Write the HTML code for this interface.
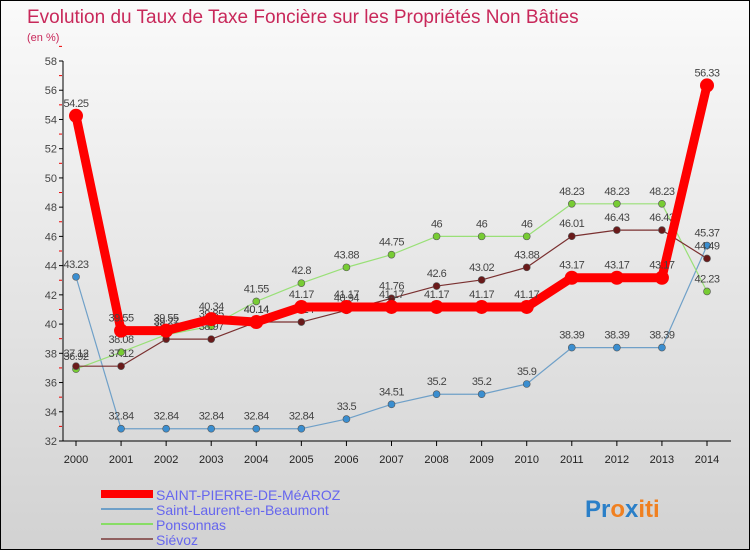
<!DOCTYPE html>
<html><head><meta charset="utf-8"><style>
body{margin:0}
#c{width:750px;height:550px;position:relative;background:linear-gradient(#fafafa,#d2d2d2);border:1px solid #000;box-sizing:border-box;overflow:hidden;font-family:"Liberation Sans",sans-serif}
</style></head><body>
<div id="c">
<svg width="750" height="550" style="position:absolute;left:0;top:0" id="svg">
<text x="26" y="22" font-size="19" fill="#c8285a">Evolution du Taux de Taxe Foncière sur les Propriétés Non Bâties</text>
<text x="26" y="40" font-size="11" fill="#c8285a">(en %)</text>
<g id="axes"></g><g id="series"></g>
<g>
<rect x="100" y="489" width="52" height="8" fill="#f00"/>
<text x="155" y="499" font-size="14" fill="#6666ee">SAINT-PIERRE-DE-MéAROZ</text>
<rect x="100" y="507" width="52" height="2" fill="#6fa0c8"/>
<text x="155" y="514" font-size="14" fill="#6666ee">Saint-Laurent-en-Beaumont</text>
<rect x="100" y="522" width="52" height="2" fill="#88dd66"/>
<text x="155" y="529" font-size="14" fill="#6666ee">Ponsonnas</text>
<rect x="100" y="537" width="52" height="2" fill="#906060"/>
<text x="155" y="544" font-size="14" fill="#6666ee">Siévoz</text>
</g>
<text x="584" y="516" font-size="24" font-weight="bold"><tspan fill="#2a7fc8">Pr</tspan><tspan fill="#f08020">o</tspan><tspan fill="#2a7fc8">x</tspan><tspan fill="#f08020">iti</tspan></text>
</svg>
</div>
<script>
const years=[2000,2001,2002,2003,2004,2005,2006,2007,2008,2009,2010,2011,2012,2013,2014];
const yTicks=[32,34,36,38,40,42,44,46,48,50,52,54,56,58];
const stPierre=[54.25,39.55,39.55,40.34,40.14,41.17,41.17,41.17,41.17,41.17,41.17,43.17,43.17,43.17,56.33];
const stLaurent=[43.23,32.84,32.84,32.84,32.84,32.84,33.5,34.51,35.2,35.2,35.9,38.39,38.39,38.39,45.37];
const ponsonnas=[36.92,38.08,39.27,39.85,41.55,42.8,43.88,44.75,46,46,46,48.23,48.23,48.23,42.23];
const sievoz=[37.12,37.12,38.97,38.97,40.14,40.14,40.94,41.76,42.6,43.02,43.88,46.01,46.43,46.43,44.49];
const NS='http://www.w3.org/2000/svg';
const X=i=>75+i*(706-75)/(years.length-1);
const Y=v=>440-(v-32)*(380/26);
function mk(t,a,p){const e=document.createElementNS(NS,t);for(const k in a)e.setAttribute(k,a[k]);p.appendChild(e);return e;}
const ax=document.getElementById('axes');
const yAxis=mk('line',{x1:62,y1:60,x2:62,y2:440,stroke:'#000'},ax);


const xAxis=mk('line',{x1:62,y1:440,x2:730,y2:440,stroke:'#000'},ax);


yTicks.forEach(v=>{
  mk('line',{x1:58,y1:Y(v),x2:62,y2:Y(v),stroke:'#000'},ax);
  mk('line',{x1:58,y1:Y(v+1),x2:61,y2:Y(v+1),stroke:'#e00'},ax);
  const t=mk('text',{x:56,y:Y(v)+4,'font-size':11,fill:'#444','text-anchor':'end'},ax);
  t.textContent=v;
  
  
});
years.forEach((yr,i)=>{
  mk('line',{x1:X(i),y1:440,x2:X(i),y2:445,stroke:'#000'},ax);
  const t=mk('text',{x:X(i),y:462,'font-size':11,fill:'#222','text-anchor':'middle'},ax);
  t.textContent=yr;
  
  
});
const sg=document.getElementById('series');
function series(data,color,w,r,name,mc){
  const g=mk('g',{},sg);
  
  
  mk('polyline',{points:data.map((v,i)=>X(i)+','+Y(v)).join(' '),fill:'none',stroke:color,'stroke-width':w,'stroke-linejoin':'round'},g);
  data.forEach((v,i)=>{
    const c=mk('circle',{cx:X(i),cy:Y(v),r:r,fill:mc,stroke:'#555','stroke-width':r>5?0:0.6},g);
    
    
    const t=mk('text',{x:X(i),y:Y(v)-9,'font-size':11,fill:'#444','text-anchor':'middle','letter-spacing':'-0.5'},g);
    t.textContent=v;
    
    
  });
}
series(stLaurent,'#6fa0c8',1.2,3.5,'saint-laurent','#3a8ed0');
series(ponsonnas,'#99e077',1.2,3.5,'ponsonnas','#77cc33');
series(sievoz,'#7a3030',1.2,3.5,'sievoz','#6a1a1a');
series(stPierre,'#f00',9,7,'saint-pierre','#f00');
</script>
</body></html>
